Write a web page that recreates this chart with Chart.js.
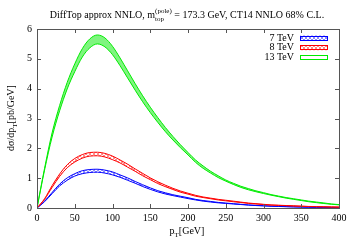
<!DOCTYPE html>
<html>
<head>
<meta charset="utf-8">
<script src="https://cdn.jsdelivr.net/npm/chart.js@4"></script>
<style>
  html, body { margin: 0; padding: 0; background: #fff; }
  canvas { display: block; }
</style>
</head>
<body>
<canvas id="c" width="357" height="250"></canvas>
<script>
// ---- data ----
const pT = [0,10,20,30,40,50,60,70,80,90,100,110,120,130,140,150,160,170,180,190,200,
            210,220,230,240,250,260,270,280,290,300,310,320,330,340,350,360,370,380,390,400];

const tev13Lo = [0,1.27,2.38,3.26,3.99,4.57,5.06,5.37,5.5,5.4,5.14,4.77,4.36,3.95,3.56,3.2,2.87,2.56,2.28,2.02,1.78,
                 1.53,1.33,1.17,1.02,0.9,0.79,0.69,0.61,0.545,0.485,0.43,0.38,0.33,0.29,0.25,0.21,0.18,0.15,0.125,0.105];
const tev13Hi = [0,1.33,2.52,3.44,4.21,4.83,5.34,5.67,5.8,5.7,5.42,5.03,4.6,4.17,3.76,3.38,3.03,2.7,2.4,2.12,1.86,
                 1.61,1.41,1.23,1.08,0.94,0.83,0.73,0.65,0.575,0.515,0.45,0.4,0.35,0.31,0.27,0.23,0.2,0.17,0.135,0.115];

const tev8Lo = [0,0.29,0.69,1.06,1.35,1.54,1.67,1.74,1.75,1.71,1.62,1.51,1.37,1.23,1.08,0.95,0.82,0.715,0.62,0.53,0.465,
                0.395,0.35,0.31,0.27,0.24,0.21,0.183,0.154,0.135,0.116,0.097,0.087,0.077,0.068,0.058,0.048,0.043,0.039,0.034,0.029];
const tev8Hi = [0,0.31,0.75,1.14,1.45,1.66,1.79,1.86,1.87,1.83,1.74,1.61,1.47,1.31,1.16,1.01,0.88,0.765,0.66,0.57,0.495,
                0.425,0.37,0.33,0.29,0.26,0.23,0.197,0.166,0.145,0.124,0.103,0.093,0.083,0.072,0.062,0.052,0.047,0.041,0.036,0.031];

const tev7Lo = [0,0.21,0.48,0.74,0.93,1.07,1.15,1.19,1.2,1.17,1.11,1.03,0.93,0.83,0.72,0.625,0.54,0.47,0.415,0.365,0.315,
                0.27,0.23,0.2,0.173,0.154,0.135,0.116,0.097,0.082,0.07,0.06,0.051,0.043,0.037,0.031,0.026,0.022,0.019,0.016,0.014];
const tev7Hi = [0,0.23,0.52,0.8,1.01,1.15,1.25,1.29,1.3,1.27,1.21,1.11,1.01,0.89,0.78,0.675,0.58,0.51,0.445,0.395,0.345,
                0.29,0.25,0.22,0.187,0.166,0.145,0.124,0.103,0.088,0.076,0.064,0.055,0.047,0.039,0.033,0.028,0.024,0.021,0.018,0.016];

const xTicks = [0,50,100,150,200,250,300,350,400];
const yTicks = [0,1,2,3,4,5,6];
const legendLabels = ['7 TeV', '8 TeV', '13 TeV'];

const SERIF = '"Liberation Serif", "DejaVu Serif", serif';
const GREEN = 'rgb(0,235,0)';
const RED = 'rgb(255,0,0)';
const BLUE = 'rgb(0,0,255)';

// small crosshatch used for the 7 and 8 TeV bands
function hatch(color) {
    const c = document.createElement('canvas');
    c.width = 4; c.height = 4;
    const g = c.getContext('2d');
    g.strokeStyle = color;
    g.globalAlpha = 0.75;
    g.lineWidth = 0.6;
    g.beginPath();
    g.moveTo(0, 4); g.lineTo(4, 0);
    g.moveTo(0, 0); g.lineTo(4, 4);
    g.stroke();
    return g.createPattern(c, 'repeat');
}

const pts = arr => pT.map((x, i) => ({ x: x, y: arr[i] }));

function band(lo, hi, color, fill) {
    const common = { borderColor: color, borderWidth: 1, pointRadius: 0, cubicInterpolationMode: 'monotone' };
    return [
        Object.assign({ data: pts(lo), fill: false }, common),
        Object.assign({ data: pts(hi), fill: '-1', backgroundColor: fill }, common)
    ];
}

// frame, inward ticks, titles, legend (gnuplot look)
const decor = {
    id: 'decor',
    afterDatasetsDraw(chart) {
        const ctx = chart.ctx;
        const a = chart.chartArea;
        const xs = chart.scales.x, ys = chart.scales.y;
        ctx.save();
        ctx.strokeStyle = '#555';
        ctx.lineWidth = 1;
        ctx.beginPath();
        xTicks.forEach(v => {
            const px = Math.round(xs.getPixelForValue(v)) + 0.5;
            ctx.moveTo(px, a.bottom); ctx.lineTo(px, a.bottom - 4);
            ctx.moveTo(px, a.top); ctx.lineTo(px, a.top + 4);
        });
        yTicks.forEach(v => {
            const py = Math.round(ys.getPixelForValue(v)) + 0.5;
            ctx.moveTo(a.left, py); ctx.lineTo(a.left + 4, py);
            ctx.moveTo(a.right, py); ctx.lineTo(a.right - 4, py);
        });
        ctx.stroke();
        ctx.strokeRect(Math.round(a.left) + 0.5, Math.round(a.top) + 0.5,
                       Math.round(a.right - a.left), Math.round(a.bottom - a.top));

        // legend
        const cols = [BLUE, RED, GREEN];
        const fills = [hatch(BLUE), hatch(RED), null];
        ctx.font = '10px ' + SERIF;
        ctx.textAlign = 'right';
        ctx.textBaseline = 'middle';
        legendLabels.forEach((t, i) => {
            const y = 38 + i * 9.8;
            ctx.fillStyle = '#000';
            ctx.fillText(t, 294, y);
            if (fills[i]) { ctx.fillStyle = fills[i]; ctx.fillRect(300, y - 2.5, 27, 5); }
            ctx.strokeStyle = cols[i];
            ctx.strokeRect(300.5, Math.round(y - 2.5) + 0.5, 27, 4);
        });

        // title
        ctx.fillStyle = '#000';
        ctx.textBaseline = 'alphabetic';
        ctx.textAlign = 'left';
        const parts = [
            ['DiffTop approx NNLO, m', 10],
            ['top', 7],
            ['(pole)', 7],
            [' = 173.3 GeV, CT14 NNLO 68% C.L.', 10]
        ];
        parts.forEach(p => { ctx.font = p[1] + 'px ' + SERIF; p.push(ctx.measureText(p[0]).width); });
        // sub and superscript share horizontal room
        const w = parts[0][2] + Math.max(parts[1][2], parts[2][2]) + parts[3][2];
        let x = 187 - w / 2;
        const base = 18;
        ctx.font = '10px ' + SERIF; ctx.fillText(parts[0][0], x, base); x += parts[0][2];
        ctx.font = '7px ' + SERIF;
        ctx.fillText(parts[1][0], x, base + 3);
        ctx.fillText(parts[2][0], x, base - 5);
        x += Math.max(parts[1][2], parts[2][2]);
        ctx.font = '10px ' + SERIF; ctx.fillText(parts[3][0], x, base);

        // x axis title
        const xt1 = 'p', xt2 = 'T', xt3 = '[GeV]';
        ctx.font = '10px ' + SERIF; const w1 = ctx.measureText(xt1).width, w3 = ctx.measureText(xt3).width;
        ctx.font = '7px ' + SERIF; const w2 = ctx.measureText(xt2).width;
        let xx = 187 - (w1 + w2 + w3) / 2;
        ctx.font = '10px ' + SERIF; ctx.fillText(xt1, xx, 234); xx += w1;
        ctx.font = '7px ' + SERIF; ctx.fillText(xt2, xx, 237); xx += w2;
        ctx.font = '10px ' + SERIF; ctx.fillText(xt3, xx, 234);

        // y axis title
        ctx.translate(11, 118);
        ctx.rotate(-Math.PI / 2);
        const y1 = 'd\u03c3/dp', y2 = 'T', y3 = '[pb/GeV]';
        ctx.font = '10px ' + SERIF; const v1 = ctx.measureText(y1).width, v3 = ctx.measureText(y3).width;
        ctx.font = '7px ' + SERIF; const v2 = ctx.measureText(y2).width;
        let yy = -(v1 + v2 + v3) / 2;
        ctx.font = '10px ' + SERIF; ctx.fillText(y1, yy, 3); yy += v1;
        ctx.font = '7px ' + SERIF; ctx.fillText(y2, yy, 6); yy += v2;
        ctx.font = '10px ' + SERIF; ctx.fillText(y3, yy, 3);
        ctx.restore();
    }
};

new Chart(document.getElementById('c'), {
    type: 'line',
    data: {
        datasets: [
            ...band(tev13Lo, tev13Hi, GREEN, 'rgba(0,235,0,0.5)'),
            ...band(tev8Lo, tev8Hi, RED, hatch(RED)),
            ...band(tev7Lo, tev7Hi, BLUE, hatch(BLUE))
        ]
    },
    options: {
        responsive: false,
        animation: false,
        devicePixelRatio: 1,
        layout: { padding: { top: 29, right: 18, left: 0, bottom: 0 } },
        plugins: { legend: { display: false }, tooltip: { enabled: false } },
        scales: {
            x: {
                type: 'linear', min: 0, max: 400,
                afterFit: s => { s.height = 42; },
                afterBuildTicks: s => { s.ticks = xTicks.map(v => ({ value: v })); },
                grid: { display: false, drawTicks: false },
                border: { display: false },
                ticks: { color: '#000', font: { family: SERIF, size: 10 }, padding: 4, maxRotation: 0 }
            },
            y: {
                type: 'linear', min: 0, max: 6,
                afterFit: s => { s.width = 37; },
                afterBuildTicks: s => { s.ticks = yTicks.map(v => ({ value: v })); },
                grid: { display: false, drawTicks: false },
                border: { display: false },
                ticks: { color: '#000', font: { family: SERIF, size: 10 }, padding: 5 }
            }
        }
    },
    plugins: [decor]
});
</script>
</body>
</html>
